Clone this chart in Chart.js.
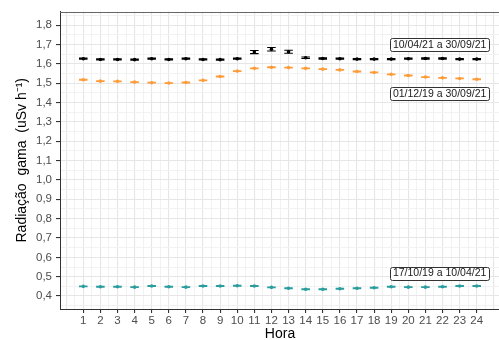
<!DOCTYPE html>
<html>
<head>
<meta charset="utf-8">
<script src="https://cdn.jsdelivr.net/npm/chart.js@4.4.1/dist/chart.umd.min.js"></script>
<style>
html, body { margin: 0; padding: 0; background: #fff; overflow: hidden; }
#wrap { width: 499px; height: 340px; overflow: hidden; }
</style>
</head>
<body>
<div id="wrap"><canvas id="grafico" width="510" height="340"></canvas></div>
<script>
// hora do dia
var horas = [1,2,3,4,5,6,7,8,9,10,11,12,13,14,15,16,17,18,19,20,21,22,23,24];

// 10/04/21 a 30/09/21 (preto)
var mediaA = [1.627,1.623,1.623,1.622,1.627,1.623,1.627,1.623,1.622,1.627,1.661,1.676,1.663,1.632,1.628,1.627,1.625,1.625,1.625,1.627,1.628,1.628,1.625,1.625];
var erroA = [0.003,0.003,0.003,0.003,0.003,0.003,0.003,0.003,0.003,0.003,0.008,0.009,0.008,0.004,0.003,0.003,0.003,0.003,0.003,0.003,0.003,0.003,0.003,0.003];

// 01/12/19 a 30/09/21 (laranja)
var mediaB = [1.518,1.511,1.510,1.506,1.503,1.501,1.504,1.515,1.535,1.563,1.577,1.583,1.581,1.577,1.573,1.569,1.561,1.556,1.546,1.540,1.532,1.528,1.525,1.521];
var erroB = [0.002,0.002,0.002,0.002,0.002,0.002,0.002,0.002,0.002,0.002,0.002,0.002,0.002,0.002,0.002,0.002,0.002,0.002,0.002,0.002,0.002,0.002,0.002,0.002];

// 17/10/19 a 10/04/21 (verde)
var mediaC = [0.450,0.448,0.448,0.446,0.452,0.448,0.446,0.452,0.452,0.453,0.452,0.445,0.440,0.435,0.435,0.438,0.440,0.443,0.448,0.446,0.446,0.448,0.452,0.452];
var erroC = [0.002,0.002,0.002,0.002,0.002,0.002,0.002,0.002,0.002,0.002,0.002,0.002,0.002,0.002,0.002,0.002,0.002,0.002,0.002,0.002,0.002,0.002,0.002,0.002];

var rotulos = ['10/04/21 a 30/09/21', '01/12/19 a 30/09/21', '17/10/19 a 10/04/21'];
var rotuloX = [21.83, 21.83, 21.83];
var rotuloY = [1.70, 1.449, 0.519];

var yTicks = [0.4,0.5,0.6,0.7,0.8,0.9,1.0,1.1,1.2,1.3,1.4,1.5,1.6,1.7,1.8];

var corA = '#000000', corB = '#ff9c3a', corC = '#2a9d9f';

function ehInteiro(v) { return Math.abs(v - Math.round(v)) < 1e-6; }
function ehMaiorY(v) { return Math.abs(v * 10 - Math.round(v * 10)) < 1e-6; }

function pontos(ys, es) {
  return horas.map(function (h, i) { return { x: h, y: ys[i], e: es[i] }; });
}

var barrasErro = {
  id: 'barrasErro',
  afterDatasetsDraw: function (chart) {
    var ctx = chart.ctx, xs = chart.scales.x, ys = chart.scales.y;
    ctx.save();
    chart.data.datasets.forEach(function (ds) {
      ctx.strokeStyle = ds.borderColor;
      ctx.lineWidth = 1.1;
      ds.data.forEach(function (p) {
        var px = xs.getPixelForValue(p.x);
        var x0 = xs.getPixelForValue(p.x - 0.25), x1 = xs.getPixelForValue(p.x + 0.25);
        var lo = ys.getPixelForValue(p.y - p.e), hi = ys.getPixelForValue(p.y + p.e);
        ctx.beginPath();
        ctx.moveTo(px, lo); ctx.lineTo(px, hi);
        ctx.moveTo(x0, lo); ctx.lineTo(x1, lo);
        ctx.moveTo(x0, hi); ctx.lineTo(x1, hi);
        ctx.stroke();
      });
    });
    ctx.restore();
  }
};

var moldura = {
  id: 'moldura',
  afterDraw: function (chart) {
    var ctx = chart.ctx, a = chart.chartArea, xs = chart.scales.x, ys = chart.scales.y;
    ctx.save();
    ctx.strokeStyle = '#666';
    ctx.lineWidth = 1;
    ctx.beginPath();
    ctx.moveTo(a.left, Math.round(a.top) + 0.5);
    ctx.lineTo(a.right, Math.round(a.top) + 0.5);
    ctx.stroke();
    // rotulos das series
    ctx.font = '10.5px "Liberation Sans", Arial, sans-serif';
    ctx.textAlign = 'center';
    ctx.textBaseline = 'middle';
    rotulos.forEach(function (t, i) {
      var cx = xs.getPixelForValue(rotuloX[i]), cy = ys.getPixelForValue(rotuloY[i]);
      var w = ctx.measureText(t).width + 6, h = 12.5;
      ctx.beginPath();
      ctx.roundRect(Math.round(cx - w / 2) + 0.5, Math.round(cy - h / 2) + 0.5, Math.round(w), Math.round(h), 2);
      ctx.fillStyle = '#fff';
      ctx.fill();
      ctx.strokeStyle = '#333';
      ctx.stroke();
      ctx.fillStyle = '#1a1a1a';
      ctx.fillText(t, cx, cy + 0.5);
    });
    ctx.restore();
  }
};

new Chart(document.getElementById('grafico').getContext('2d'), {
  type: 'scatter',
  data: {
    datasets: [
      { label: rotulos[0], data: pontos(mediaA, erroA), borderColor: corA, backgroundColor: corA },
      { label: rotulos[1], data: pontos(mediaB, erroB), borderColor: corB, backgroundColor: corB },
      { label: rotulos[2], data: pontos(mediaC, erroC), borderColor: corC, backgroundColor: corC }
    ]
  },
  options: {
    responsive: false,
    animation: false,
    layout: { padding: { top: 11.5, right: 10, left: 0, bottom: 0 } },
    elements: { point: { radius: 1.8, borderWidth: 0, hoverRadius: 1.8 } },
    plugins: { legend: { display: false }, tooltip: { enabled: false } },
    scales: {
      x: {
        type: 'linear',
        min: -0.36,
        max: 25.36,
        afterBuildTicks: function (s) {
          var t = [];
          for (var i = 0; i <= 50; i++) t.push({ value: i / 2 });
          s.ticks = t;
        },
        afterFit: function (s) { s.height = 31; },
        ticks: {
          autoSkip: false,
          maxRotation: 0,
          padding: 1,
          color: '#4d4d4d',
          font: { family: '"Liberation Sans", Arial, sans-serif', size: 11.5 },
          callback: function (v) { return (ehInteiro(v) && v >= 1 && v <= 24) ? String(Math.round(v)) : ''; }
        },
        grid: {
          tickLength: 4,
          color: function (c) { return ehInteiro(c.tick.value) ? '#e6e6e6' : '#f1f1f1'; },
          lineWidth: function (c) { return ehInteiro(c.tick.value) ? 1.1 : 0.9; },
          tickColor: function (c) { var v = c.tick.value; return (ehInteiro(v) && v >= 1 && v <= 24) ? '#333' : 'rgba(0,0,0,0)'; }
        },
        border: { display: true, color: '#333', width: 1 },
        title: {
          display: true,
          text: 'Hora',
          color: '#000',
          padding: { top: 0, bottom: -3 },
          font: { family: '"Liberation Sans", Arial, sans-serif', size: 14 }
        }
      },
      y: {
        min: 0.333,
        max: 1.871,
        afterBuildTicks: function (s) {
          var t = [];
          for (var i = 7; i <= 37; i++) t.push({ value: i / 20 });
          s.ticks = t;
        },
        afterFit: function (s) { s.width = 60; },
        ticks: {
          autoSkip: false,
          padding: 4,
          color: '#4d4d4d',
          font: { family: '"Liberation Sans", Arial, sans-serif', size: 11.5 },
          callback: function (v) {
            return (ehMaiorY(v) && yTicks.indexOf(Math.round(v * 10) / 10) >= 0) ? v.toFixed(1).replace('.', ',') : '';
          }
        },
        grid: {
          tickLength: 4,
          color: function (c) { return ehMaiorY(c.tick.value) ? '#e6e6e6' : '#f1f1f1'; },
          lineWidth: function (c) { return ehMaiorY(c.tick.value) ? 1.1 : 0.9; },
          tickColor: function (c) { return ehMaiorY(c.tick.value) ? '#333' : 'rgba(0,0,0,0)'; }
        },
        border: { display: true, color: '#333', width: 1 },
        title: {
          display: true,
          text: 'Radiação  gama  (uSv h⁻¹)',
          color: '#000',
          padding: { top: 14, bottom: 0 },
          font: { family: '"Liberation Sans", Arial, sans-serif', size: 14 }
        }
      }
    }
  },
  plugins: [barrasErro, moldura]
});
</script>
</body>
</html>
